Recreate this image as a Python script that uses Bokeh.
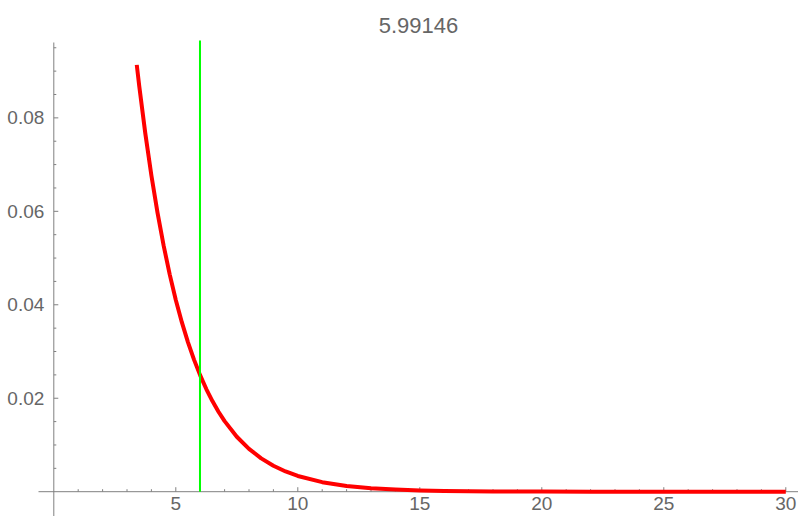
from bokeh.plotting import figure
from bokeh.models import Range1d, ColumnDataSource
from bokeh.core.properties import value
from bokeh.embed import file_html
from bokeh.resources import INLINE

# Density curve (x, f(x)) and the critical value marked by the vertical line
curve_x = [3.4, 3.5, 3.75, 4.0, 4.25, 4.5, 4.75, 5.0, 5.25, 5.5, 5.75, 6.0,
           6.25, 6.5, 6.75, 7.0, 7.5, 8.0, 8.5, 9.0, 9.5, 10, 11, 12, 13,
           14, 15, 16, 17, 18, 20, 22, 25, 30]
curve_y = [0.09134, 0.08689, 0.07668, 0.06767, 0.05972, 0.05270, 0.04651,
           0.04104, 0.03622, 0.03196, 0.02821, 0.02489, 0.02197, 0.01939,
           0.01711, 0.01510, 0.01176, 0.00916, 0.00713, 0.00555, 0.00433,
           0.00337, 0.00204, 0.00124, 0.00075, 0.00046, 0.00028, 0.00017,
           0.00010, 0.00006, 0.00002, 0.00001, 0.0, 0.0]
critical_value = 5.99146
title_text = "5.99146"

x_major = [5, 10, 15, 20, 25, 30]
x_major_labels = ["5", "10", "15", "20", "25", "30"]
x_minor = [1, 2, 3, 4, 6, 7, 8, 9, 11, 12, 13, 14, 16, 17, 18, 19,
           21, 22, 23, 24, 26, 27, 28, 29]
y_major = [0.02, 0.04, 0.06, 0.08]
y_major_labels = ["0.02", "0.04", "0.06", "0.08"]
y_minor = [0.005, 0.01, 0.015, 0.025, 0.03, 0.035, 0.045, 0.05, 0.055,
           0.065, 0.07, 0.075, 0.085, 0.09, 0.095]

W, H = 798, 516
# pixel geometry of the canvas: origin position and scale
X0_PX, X_SCALE = 53.3, 24.4       # px of x=0, px per unit
Y0_PX, Y_SCALE = 491.2, 4673.0    # px of y=0, px per unit


def dx(px):
    return px / X_SCALE


def dy(px):
    return px / Y_SCALE


def x_at(px):
    return (px - X0_PX) / X_SCALE


def y_at(px):
    return (Y0_PX - px) / Y_SCALE


p = figure(width=W, height=H, output_backend="svg", toolbar_location=None,
           x_range=Range1d(x_at(0), x_at(W)), y_range=Range1d(y_at(H), y_at(0)),
           x_axis_type=None, y_axis_type=None, min_border=0,
           outline_line_color=None, background_fill_color="white",
           border_fill_color="white")

axis_color = "#808080"
text_color = "#666666"
font = value("Liberation Sans")

# axis lines crossing at the origin
p.segment(x0=[x_at(38), 0], y0=[0, y_at(H)], x1=[x_at(W), 0], y1=[0, y_at(42)],
          line_color=axis_color, line_width=1)

# x ticks pointing up from the axis
p.segment(x0=x_major, y0=[0] * len(x_major), x1=x_major,
          y1=[dy(4.5)] * len(x_major), line_color=axis_color, line_width=1)
p.segment(x0=x_minor, y0=[0] * len(x_minor), x1=x_minor,
          y1=[dy(2.5)] * len(x_minor), line_color=axis_color, line_width=1)
# y ticks pointing right from the axis
p.segment(x0=[0] * len(y_major), y0=y_major, x1=[dx(4.5)] * len(y_major),
          y1=y_major, line_color=axis_color, line_width=1)
p.segment(x0=[0] * len(y_minor), y0=y_minor, x1=[dx(2.5)] * len(y_minor),
          y1=y_minor, line_color=axis_color, line_width=1)

# tick labels
p.text(x=x_major, y=[-dy(5)] * len(x_major), text=x_major_labels,
       text_align="center", text_baseline="top", text_font=font,
       text_font_size="19px", text_color=text_color)
p.text(x=[-dx(9.5)] * len(y_major), y=y_major, text=y_major_labels,
       text_align="right", text_baseline="middle", text_font=font,
       text_font_size="19px", text_color=text_color)

# density curve
src = ColumnDataSource(dict(x=curve_x, y=curve_y))
p.line("x", "y", source=src, line_color="#ff0000", line_width=4,
       line_join="round")

# critical value line
p.segment(x0=[critical_value], y0=[0], x1=[critical_value], y1=[y_at(40)],
          line_color="#00ff00", line_width=2)

# title
p.text(x=[x_at(418)], y=[y_at(25)], text=[title_text], text_align="center",
       text_baseline="middle", text_font=font, text_font_size="22px",
       text_color=text_color)

open("out.html", "w").write(file_html(p, INLINE))
